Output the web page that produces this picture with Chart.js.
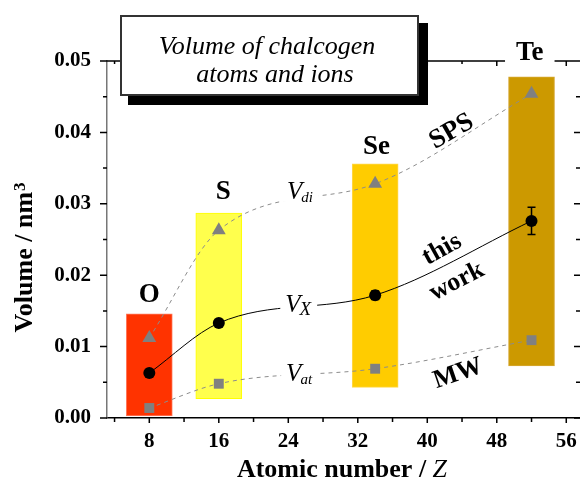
<!DOCTYPE html>
<html>
<head>
<meta charset="utf-8">
<script src="https://cdn.jsdelivr.net/npm/chart.js@4/dist/chart.umd.min.js"></script>
<style>
	html,body{margin:0;padding:0;background:#fff;overflow:hidden;}
	#chalcoChart{display:block;}
</style>
</head>
<body>
<canvas id="chalcoChart" width="588" height="486"></canvas>
<script>
// chalcogen volumes (nm3)
const elements = ['O', 'S', 'Se', 'Te'];
const atomicNumbers = [8, 16, 34, 52];
const barLow = [0.0003, 0.0027, 0.0043, 0.0073];
const barHigh = [0.0146, 0.0287, 0.0356, 0.0478];
const vDi = [0.0112, 0.0263, 0.0328, 0.0454];   // SPS
const vX = [0.0063, 0.0133, 0.0172, 0.0276];    // this work
const vXErr = [0.0002, 0.0003, 0.0006, 0.0019];
const vAt = [0.0014, 0.0048, 0.0069, 0.0109];   // MW
const xTicks = [8, 16, 24, 32, 40, 48, 56];
const xMinor = [4, 12, 20, 28, 36, 44, 52];
const yTicks = [0, 0.01, 0.02, 0.03, 0.04, 0.05];
const yMinor = [0.005, 0.015, 0.025, 0.035, 0.045];

const barColors = ['#FF3300', '#FFFF4D', '#FFCC00', '#CC9900'];
const barEdges = ['#FF7A5C', '#FFFF00', '#FFD84D', '#D6A833'];
const serif = '"Liberation Serif", "Times New Roman", serif';

function pts(vals){
	return atomicNumbers.map(function(z, i){ return {x: z, y: vals[i]}; });
}

// text placed in data coordinates
const labels = [
	{text: 'O', z: 8.0, v: 0.0172, size: 27},
	{text: 'S', z: 16.5, v: 0.0317, size: 27},
	{text: 'Se', z: 34.15, v: 0.0380, size: 27},
	{text: 'Te', z: 51.8, v: 0.0511, size: 27, pad: 11},
	{text: 'SPS', z: 42.8, v: 0.0401, size: 27, rot: -30},
	{text: 'this', z: 41.7, v: 0.0236, size: 26, rot: -29},
	{text: 'work', z: 43.4, v: 0.0191, size: 26, rot: -27},
	{text: 'MW', z: 43.55, v: 0.0062, size: 26, rot: -19}
];
const vLabels = [
	{sub: 'di', z: 25.4, v: 0.0318, subSize: 15, drop: 3},
	{sub: 'X', z: 25.2, v: 0.0160, subSize: 19, drop: 3},
	{sub: 'at', z: 25.3, v: 0.0063, subSize: 15, drop: 3}
];

const decor = {
	id: 'decor',
	beforeDatasetsDraw(chart){
		const {ctx, chartArea: a, scales: {x, y}} = chart;
		ctx.save();
		ctx.strokeStyle = '#000';
		ctx.lineWidth = 1.5;
		ctx.beginPath();
		ctx.moveTo(a.left, a.top); ctx.lineTo(a.right, a.top);
		xTicks.forEach(function(z){
			let p = x.getPixelForValue(z);
			ctx.moveTo(p, a.bottom); ctx.lineTo(p, a.bottom + 5);
			ctx.moveTo(p, a.top); ctx.lineTo(p, a.top + 5);
		});
		xMinor.forEach(function(z){
			let p = x.getPixelForValue(z);
			ctx.moveTo(p, a.bottom); ctx.lineTo(p, a.bottom + 4);
			ctx.moveTo(p, a.top); ctx.lineTo(p, a.top + 3);
		});
		yTicks.forEach(function(v){
			let p = y.getPixelForValue(v);
			ctx.moveTo(a.left - 7, p); ctx.lineTo(a.left, p);
			ctx.moveTo(a.right - 6, p); ctx.lineTo(a.right, p);
		});
		yMinor.forEach(function(v){
			let p = y.getPixelForValue(v);
			ctx.moveTo(a.left - 4, p); ctx.lineTo(a.left, p);
			ctx.moveTo(a.right - 4, p); ctx.lineTo(a.right, p);
		});
		ctx.stroke();
		ctx.restore();
	},
	afterDatasetsDraw(chart){
		const {ctx, scales: {x, y}} = chart;
		ctx.save();
		ctx.strokeStyle = '#000';
		ctx.lineWidth = 1.5;
		ctx.beginPath();
		atomicNumbers.forEach(function(z, i){
			let px = x.getPixelForValue(z);
			let hi = y.getPixelForValue(vX[i] + vXErr[i]);
			let lo = y.getPixelForValue(vX[i] - vXErr[i]);
			ctx.moveTo(px, hi); ctx.lineTo(px, lo);
			ctx.moveTo(px - 4, hi); ctx.lineTo(px + 4, hi);
			ctx.moveTo(px - 4, lo); ctx.lineTo(px + 4, lo);
		});
		ctx.stroke();
		ctx.restore();
	},
	afterDraw(chart){
		const {ctx, scales: {x, y}} = chart;
		ctx.save();

		// title box with shadow
		ctx.fillStyle = '#000';
		ctx.fillRect(128, 23, 300, 82);
		ctx.fillStyle = '#fff';
		ctx.fillRect(120, 15, 299, 81);
		ctx.strokeStyle = '#333';
		ctx.lineWidth = 2;
		ctx.strokeRect(121, 16, 297, 79);
		ctx.fillStyle = '#000';
		ctx.font = 'italic 26px ' + serif;
		ctx.textAlign = 'center';
		ctx.textBaseline = 'alphabetic';
		ctx.fillText('Volume of chalcogen', 267, 54);
		ctx.fillText('atoms and ions', 275, 82);

		// element and source labels
		labels.forEach(function(l){
			let px = x.getPixelForValue(l.z), py = y.getPixelForValue(l.v);
			ctx.save();
			ctx.translate(px, py);
			ctx.rotate((l.rot || 0) * Math.PI / 180);
			ctx.font = 'bold ' + l.size + 'px ' + serif;
			ctx.textAlign = 'center';
			ctx.textBaseline = 'middle';
			if (l.pad) {
				let w = ctx.measureText(l.text).width;
				ctx.fillStyle = '#fff';
				ctx.fillRect(-w / 2 - l.pad, -12, w + 2 * l.pad, 24);
			}
			ctx.fillStyle = '#000';
			ctx.fillText(l.text, 0, 0);
			ctx.restore();
		});

		// V labels on the curves
		vLabels.forEach(function(l){
			let px = x.getPixelForValue(l.z), py = y.getPixelForValue(l.v);
			ctx.font = 'italic 25px ' + serif;
			let wV = ctx.measureText('V').width;
			ctx.font = 'italic ' + l.subSize + 'px ' + serif;
			let wS = ctx.measureText(l.sub).width;
			let w = wV + wS;
			let x0 = px - w / 2, base = py + 8;
			ctx.fillStyle = '#fff';
			ctx.fillRect(x0 - 5, py - 11, w + 10, 22);
			ctx.fillStyle = '#000';
			ctx.textAlign = 'left';
			ctx.textBaseline = 'alphabetic';
			ctx.font = 'italic 25px ' + serif;
			ctx.fillText('V', x0, base);
			ctx.font = 'italic ' + l.subSize + 'px ' + serif;
			ctx.fillText(l.sub, x0 + wV - 1, base + l.drop);
		});

		// axis titles
		ctx.fillStyle = '#000';
		ctx.textBaseline = 'alphabetic';
		ctx.save();
		ctx.translate(32, 258);
		ctx.rotate(-Math.PI / 2);
		ctx.font = 'bold 26px ' + serif;
		let t1 = 'Volume / nm';
		let w1 = ctx.measureText(t1).width;
		ctx.font = 'bold 17px ' + serif;
		let w2 = ctx.measureText('3').width;
		let sx = -(w1 + w2) / 2;
		ctx.textAlign = 'left';
		ctx.font = 'bold 26px ' + serif;
		ctx.fillText(t1, sx, 0);
		ctx.font = 'bold 17px ' + serif;
		ctx.fillText('3', sx + w1 + 1, -7);
		ctx.restore();

		ctx.font = 'bold 26px ' + serif;
		let a1 = 'Atomic number / ';
		let wa = ctx.measureText(a1).width;
		ctx.font = 'italic 26px ' + serif;
		let wz = ctx.measureText('Z').width;
		let ax = 342 - (wa + wz) / 2;
		ctx.textAlign = 'left';
		ctx.font = 'bold 26px ' + serif;
		ctx.fillText(a1, ax, 477);
		ctx.font = 'italic 26px ' + serif;
		ctx.fillText('Z', ax + wa, 477);

		ctx.restore();
	}
};

const tickFont = {family: serif, size: 21, weight: 'bold'};

new Chart(document.getElementById('chalcoChart'), {
	type: 'line',
	data: {
		datasets: [
			{
				type: 'bar',
				label: 'range',
				data: atomicNumbers.map(function(z, i){ return {x: z, y: [barLow[i], barHigh[i]]}; }),
				backgroundColor: barColors,
				borderColor: barEdges,
				borderWidth: 1,
				borderSkipped: false,
				barThickness: 46,
				order: 10
			},
			{
				label: 'SPS',
				data: pts(vDi),
				borderColor: '#8c8c8c',
				borderWidth: 1,
				borderDash: [4, 4],
				cubicInterpolationMode: 'monotone',
				pointStyle: 'triangle',
				pointRadius: 8,
				pointBackgroundColor: '#808080',
				pointBorderColor: '#808080',
				pointBorderWidth: 0,
				order: 2
			},
			{
				label: 'MW',
				data: pts(vAt),
				borderColor: '#8c8c8c',
				borderWidth: 1,
				borderDash: [4, 4],
				cubicInterpolationMode: 'monotone',
				pointStyle: 'rect',
				pointRadius: 7,
				pointBackgroundColor: '#808080',
				pointBorderColor: '#808080',
				pointBorderWidth: 0,
				order: 2
			},
			{
				label: 'this work',
				data: pts(vX),
				borderColor: '#000',
				borderWidth: 1,
				cubicInterpolationMode: 'monotone',
				pointStyle: 'circle',
				pointRadius: 6,
				pointBackgroundColor: '#000',
				pointBorderColor: '#000',
				pointBorderWidth: 0,
				order: 1
			}
		]
	},
	options: {
		responsive: false,
		devicePixelRatio: 1,
		animation: false,
		layout: {padding: {top: 61, right: 0, left: 0, bottom: 0}},
		plugins: {legend: {display: false}, tooltip: {enabled: false}},
		scales: {
			x: {
				type: 'linear',
				min: 3.13,
				max: 57.58,
				offset: false,
				grid: {display: false, drawTicks: false},
				border: {display: true, color: '#000', width: 1.5},
				afterBuildTicks: function(scale){ scale.ticks = xTicks.map(function(v){ return {value: v}; }); },
				afterFit: function(scale){ scale.height = 68; },
				ticks: {font: tickFont, color: '#000', padding: 11, maxRotation: 0, autoSkip: false,
					callback: function(v){ return String(v); }}
			},
			y: {
				type: 'linear',
				min: 0,
				max: 0.05,
				grid: {display: false, drawTicks: false},
				border: {display: true, color: '#777', width: 1.5},
				afterBuildTicks: function(scale){ scale.ticks = yTicks.map(function(v){ return {value: v}; }); },
				afterFit: function(scale){ scale.width = 107; },
				ticks: {font: tickFont, color: '#000', padding: 16,
					callback: function(v){ return v.toFixed(2); }}
			}
		}
	},
	plugins: [decor]
});
</script>
</body>
</html>
